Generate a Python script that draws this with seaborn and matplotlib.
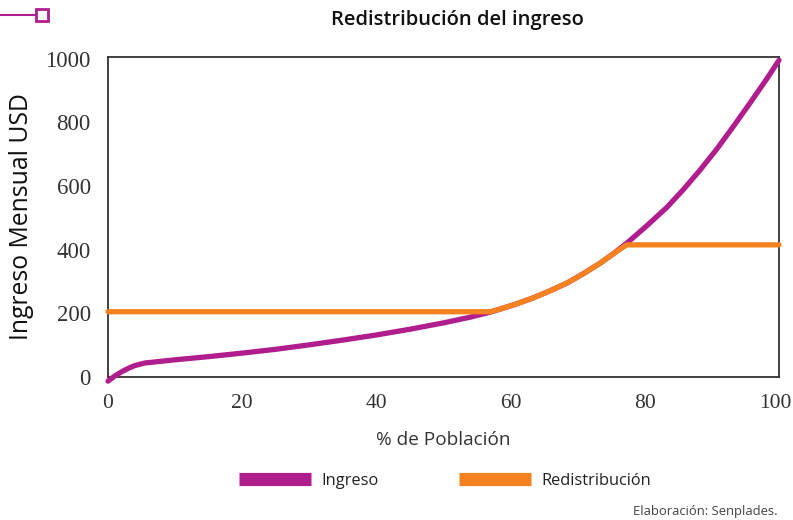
import matplotlib
matplotlib.use("Agg")
import matplotlib.pyplot as plt
import matplotlib.transforms as mtransforms
import seaborn as sns
import pandas as pd
from matplotlib.lines import Line2D

# Data
ingreso_x = [0, 1, 2, 3, 4, 5.5, 10, 15, 20, 25, 30, 35, 40, 45, 50, 54, 57,
             58.4, 60.8, 63.3, 65.8, 68.4, 70.8, 73.3, 75.3, 77.3, 80.3, 83.3,
             85.8, 88.2, 90.7, 93.1, 95.6, 98.2, 100]
ingreso_y = [-13, 3, 16, 27, 36, 44, 54, 64, 75, 87, 101, 116, 132, 150, 170, 188, 204,
             213, 229, 248, 270, 295, 324, 357, 387, 420, 475, 533,
             590, 649, 715, 784, 858, 937, 995]
redis_x = [0, 57, 58.4, 60.8, 63.3, 65.8, 68.4, 70.8, 73.3, 75.3, 77.3, 100]
redis_y = [205, 205, 213, 229, 248, 270, 295, 324, 357, 387, 415, 415]
x_ticks = [0, 20, 40, 60, 80, 100]
y_ticks = [0, 200, 400, 600, 800, 1000]

title = "Redistribución del ingreso"
xlabel = "% de Población"
ylabel = "Ingreso Mensual USD"
series_names = ["Ingreso", "Redistribución"]
source = "Elaboración: Senplades."

purple = "#B01E8D"
orange = "#F58220"
axis_col = "#333333"

sns.set_theme(style="white")
plt.rcParams["font.family"] = ["Open Sans", "DejaVu Sans"]

fig = plt.figure(figsize=(7.93, 5.2), dpi=100)
ax = fig.add_axes([108/793, 1-377/520, (779-108)/793, (377-57)/520])

df_i = pd.DataFrame({"x": ingreso_x, "y": ingreso_y})
df_r = pd.DataFrame({"x": redis_x, "y": redis_y})
sns.lineplot(data=df_i, x="x", y="y", ax=ax, color=purple, linewidth=3.8, zorder=3)
sns.lineplot(data=df_r, x="x", y="y", ax=ax, color=orange, linewidth=3.8, zorder=4)
for ln in ax.lines:
    ln.set_clip_on(False)
    ln.set_solid_joinstyle("round")

ax.set_xlim(0, 100)
ax.set_ylim(0, 1005)
ax.set_xticks(x_ticks)
ax.set_yticks(y_ticks)
serif = ["Liberation Serif", "DejaVu Serif"]
ax.set_xticklabels([str(v) for v in x_ticks], family=serif, fontsize=15.5, color=axis_col)
ax.set_yticklabels([str(v) for v in y_ticks], family=serif, fontsize=16.5, color=axis_col)
ax.tick_params(axis="x", direction="inout", length=7, width=1.0, color=axis_col, pad=9)
ax.tick_params(axis="y", direction="inout", length=7, width=1.0, color=axis_col, pad=9)
# nudge the last x tick label so it stays inside the figure
last = ax.get_xticklabels()[-1]
last.set_transform(last.get_transform() + mtransforms.ScaledTranslation(-4/100, 0, fig.dpi_scale_trans))
for s in ax.spines.values():
    s.set_color(axis_col)
    s.set_linewidth(1.3)
    s.set_visible(True)

ax.set_xlabel(xlabel, fontsize=13.7, color=axis_col, labelpad=13)
ax.set_ylabel(ylabel, fontsize=17.8, color="#111111", labelpad=8)
fig.text(457/793, 1-20/520, title, ha="center", va="center", fontsize=14.5,
         fontweight="semibold", color="#111111")

handles = [Line2D([0], [0], color=purple, linewidth=9.5, solid_capstyle="butt"),
           Line2D([0], [0], color=orange, linewidth=9.5, solid_capstyle="butt")]
fig.legend(handles, series_names, loc="center", bbox_to_anchor=(445/793, 1-481/520),
           ncol=2, frameon=False, fontsize=11.8, handlelength=4.4, handletextpad=0.65,
           columnspacing=4.9, labelcolor="#222222")

fig.text(778/793, 1-511/520, source, ha="right", va="center", fontsize=9.4, color="#444444")

# decorative marker at top-left
fig.add_artist(Line2D([0, 37/793], [1-15/520, 1-15/520], color=purple, linewidth=1.5,
                      transform=fig.transFigure))
fig.add_artist(Line2D([42/793], [1-15/520], marker="s", markersize=8, markerfacecolor="white",
                      markeredgecolor=purple, markeredgewidth=2, transform=fig.transFigure))

fig.savefig("out.png", dpi=100)
